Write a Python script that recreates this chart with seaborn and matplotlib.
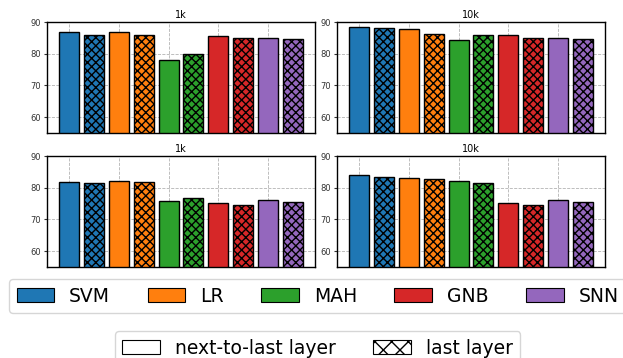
import matplotlib
matplotlib.use("Agg")
import matplotlib.pyplot as plt
from matplotlib.patches import Patch
import seaborn as sns
import pandas as pd

methods = ["SVM", "LR", "MAH", "GNB", "SNN"]
colors = ["#1f77b4", "#ff7f0e", "#2ca02c", "#d62728", "#9467bd"]
layers = ["next-to-last layer", "last layer"]
titles = ["1k", "10k", "1k", "10k"]

# values per panel: (next-to-last, last) for each method
top_1k_next = [86.7, 87.0, 78.1, 85.7, 85.0]
top_1k_last = [85.9, 85.9, 80.0, 84.8, 84.6]
top_10k_next = [88.5, 87.8, 84.3, 85.8, 85.0]
top_10k_last = [88.1, 86.3, 85.8, 85.0, 84.7]
bot_1k_next = [81.9, 82.2, 75.8, 75.2, 76.0]
bot_1k_last = [81.6, 81.9, 76.6, 74.6, 75.5]
bot_10k_next = [84.1, 83.0, 82.2, 75.3, 76.0]
bot_10k_last = [83.4, 82.6, 81.6, 74.5, 75.5]

panels = [
    (top_1k_next, top_1k_last),
    (top_10k_next, top_10k_last),
    (bot_1k_next, bot_1k_last),
    (bot_10k_next, bot_10k_last),
]

W, H = 623, 358
fig = plt.figure(figsize=(W / 100, H / 100), dpi=100)

boxes = [
    (47, 22, 315, 133),
    (337, 22, 605, 133),
    (47, 156, 315, 267),
    (337, 156, 605, 267),
]

for (nxt, lst), title, (x0, y0, x1, y1) in zip(panels, titles, boxes):
    ax = fig.add_axes([x0 / W, 1 - y1 / H, (x1 - x0) / W, (y1 - y0) / H])
    cats, vals, cols, hatch = [], [], [], []
    for m, c, a, b in zip(methods, colors, nxt, lst):
        cats += [m + " " + layers[0], m + " " + layers[1]]
        vals += [a, b]
        cols += [c, c]
        hatch += ["", "xxxx"]
    df = pd.DataFrame({"bar": cats, "acc": vals})
    sns.barplot(data=df, x="bar", y="acc", hue="bar", order=cats,
                palette=dict(zip(cats, cols)), legend=False,
                edgecolor="black", linewidth=1.0, saturation=1, ax=ax,
                width=0.8)
    for p, h in zip(ax.patches, hatch):
        p.set_hatch(h)
    ax.set_xlim(-0.89, 9.89)
    ax.set_ylim(55, 90)
    ax.set_yticks([60, 70, 80, 90])
    ax.set_xticks([0, 2, 4, 6, 8])
    ax.set_xticklabels([])
    ax.tick_params(axis="x", length=0)
    ax.tick_params(axis="y", labelsize=6, length=2.5, pad=2, colors="#333333")
    ax.set_xlabel("")
    ax.set_ylabel("")
    ax.set_title(title, fontsize=7, pad=3)
    ax.set_axisbelow(True)
    ax.grid(True, linestyle="--", color="gray", alpha=0.6, linewidth=0.6)
    for s in ax.spines.values():
        s.set_linewidth(1.0)

h1 = [Patch(facecolor=c, edgecolor="black", linewidth=0.8) for c in colors]
leg1 = fig.legend(h1, methods, loc="upper left", bbox_to_anchor=(9 / W, 1 - 279 / H),
                  ncol=5, fontsize=13.5, frameon=True, borderaxespad=0,
                  handlelength=2.0, handleheight=0.75)
h2 = [Patch(facecolor="white", edgecolor="black", linewidth=0.8),
      Patch(facecolor="white", edgecolor="black", linewidth=0.8, hatch="xx")]
leg2 = fig.legend(h2, layers, loc="upper left", bbox_to_anchor=(115 / W, 1 - 331 / H),
                  ncol=2, fontsize=13.5, frameon=True, borderaxespad=0,
                  handlelength=2.0, handleheight=0.75)

fig.savefig("out.png", dpi=100)
